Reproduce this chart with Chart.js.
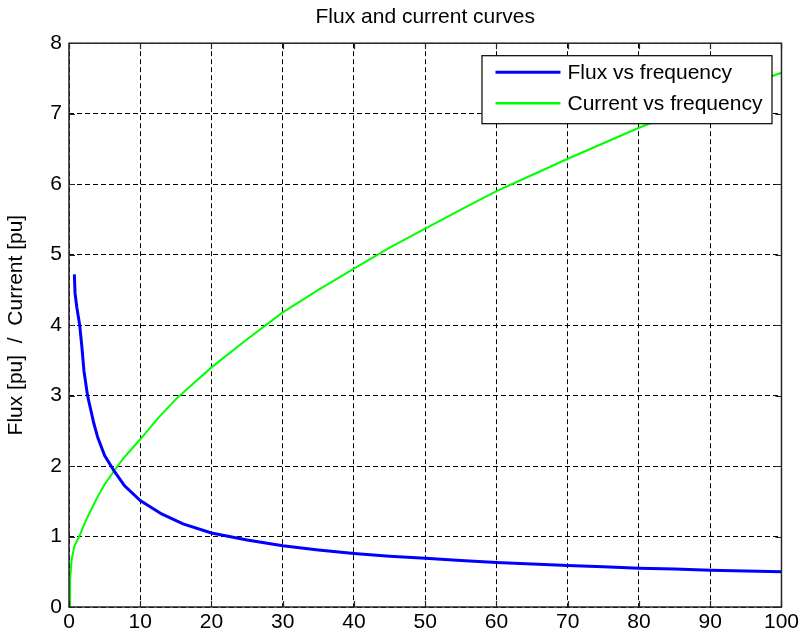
<!DOCTYPE html>
<html lang="en">
  <head>
    <meta charset="utf-8" />
    <title>Flux and current curves</title>
    <style>
      * {
        margin: 0;
        padding: 0;
      }
      body {
        background: white;
      }
    </style>
  </head>
  <body>
    <canvas id="myChart" width="802" height="637"></canvas>

    <script src="https://cdn.jsdelivr.net/npm/chart.js@4/dist/chart.umd.min.js"></script>

    <script>
      // data
      const fluxFreq = [0.75, 0.85, 1.1, 1.5, 1.8, 2.1, 2.6, 3.5, 4.05, 5.0, 6.4, 7.8, 10, 13, 16, 20, 25, 30, 35, 40, 45, 50, 55, 60, 65, 70, 75, 80, 85, 90, 95, 100];
      const fluxValues = [4.72, 4.45, 4.25, 4.0, 3.7, 3.35, 3.0, 2.6, 2.4, 2.15, 1.92, 1.72, 1.51, 1.32, 1.18, 1.05, 0.95, 0.87, 0.81, 0.76, 0.72, 0.69, 0.66, 0.63, 0.61, 0.59, 0.57, 0.55, 0.54, 0.52, 0.51, 0.5];

      const currentFreq = [0, 0.14, 0.37, 0.74, 1.44, 2.2, 3.1, 4.05, 5.0, 6.4, 7.55, 10, 12.5, 15, 20, 25, 30, 35, 40, 45, 50, 55, 60, 65, 70, 75, 80, 85, 90, 95, 100];
      const currentValues = [0, 0.38, 0.67, 0.86, 1.0, 1.19, 1.38, 1.57, 1.74, 1.94, 2.1, 2.38, 2.68, 2.95, 3.4, 3.8, 4.18, 4.5, 4.8, 5.1, 5.37, 5.64, 5.9, 6.13, 6.36, 6.58, 6.8, 7.0, 7.2, 7.4, 7.58];

      const seriesLabels = ["Flux vs frequency", "Current vs frequency"];
      const seriesColors = ["#0000ff", "#00ff00"];
      const xRange = [0, 100];
      const yRange = [0, 8];

      const FONT = "Arial, 'Liberation Sans', sans-serif";
      const FS = 21;

      const toPoints = (xs, ys) => xs.map((x, i) => ({ x: x, y: ys[i] }));

      // axes box with inward ticks on all four sides (matlab style)
      const framePlugin = {
        id: "frame",
        afterDatasetsDraw(chart) {
          const { ctx, chartArea: a, scales } = chart;
          const len = 6;
          ctx.save();
          ctx.strokeStyle = "#262626";
          ctx.lineWidth = 1.5;
          ctx.strokeRect(a.left, a.top, a.right - a.left, a.bottom - a.top);
          ctx.lineWidth = 1.2;
          ctx.beginPath();
          scales.x.ticks.forEach((t) => {
            const px = Math.round(scales.x.getPixelForValue(t.value)) + 0.5;
            ctx.moveTo(px, a.bottom);
            ctx.lineTo(px, a.bottom - len);
            ctx.moveTo(px, a.top);
            ctx.lineTo(px, a.top + len);
          });
          scales.y.ticks.forEach((t) => {
            const py = Math.round(scales.y.getPixelForValue(t.value)) + 0.5;
            ctx.moveTo(a.left, py);
            ctx.lineTo(a.left + len, py);
            ctx.moveTo(a.right, py);
            ctx.lineTo(a.right - len, py);
          });
          ctx.stroke();
          ctx.restore();
        },
      };

      // legend box inside the top right corner
      const boxLegend = {
        id: "boxLegend",
        afterDraw(chart) {
          const { ctx, chartArea: a } = chart;
          const w = 290;
          const h = 68;
          const x0 = a.right - 10 - w;
          const y0 = a.top + 12;
          ctx.save();
          ctx.fillStyle = "white";
          ctx.fillRect(x0, y0, w, h);
          ctx.strokeStyle = "#000";
          ctx.lineWidth = 1.2;
          ctx.strokeRect(x0 + 0.5, y0 + 0.5, w, h);
          ctx.font = FS + "px " + FONT;
          ctx.textBaseline = "middle";
          chart.data.datasets.forEach((ds, i) => {
            const y = y0 + 17 + i * 31;
            ctx.strokeStyle = ds.borderColor;
            ctx.lineWidth = i === 0 ? 3 : 2.5;
            ctx.beginPath();
            ctx.moveTo(x0 + 14, y);
            ctx.lineTo(x0 + 79, y);
            ctx.stroke();
            ctx.fillStyle = "#000";
            ctx.fillText(ds.label, x0 + 86, y + 1);
          });
          ctx.restore();
        },
      };

      const data = {
        datasets: [
          {
            label: seriesLabels[0],
            data: toPoints(fluxFreq, fluxValues),
            borderColor: seriesColors[0],
            borderWidth: 3,
            pointRadius: 0,
            tension: 0,
          },
          {
            label: seriesLabels[1],
            data: toPoints(currentFreq, currentValues),
            borderColor: seriesColors[1],
            borderWidth: 2,
            pointRadius: 0,
            tension: 0,
          },
        ],
      };

      const config = {
        type: "line",
        data: data,
        options: {
          responsive: false,
          animation: false,
          layout: { padding: { left: 0, right: 19, top: 0, bottom: 0 } },
          plugins: {
            legend: { display: false },
            tooltip: { enabled: false },
            title: {
              display: true,
              text: "Flux and current curves",
              color: "#000",
              fullSize: false,
              font: { family: FONT, size: FS, weight: "normal" },
              padding: { top: 5, bottom: 13 },
            },
          },
          scales: {
            x: {
              type: "linear",
              min: xRange[0],
              max: xRange[1],
              afterFit: (scale) => {
                scale.height = 30;
              },
              ticks: {
                stepSize: 10,
                color: "#000",
                padding: 3,
                maxRotation: 0,
                font: { family: FONT, size: FS },
              },
              grid: { color: "#000", lineWidth: 1, drawTicks: false },
              border: { display: false, dash: [5, 3] },
            },
            y: {
              min: yRange[0],
              max: yRange[1],
              afterFit: (scale) => {
                scale.width = 69;
              },
              ticks: {
                stepSize: 1,
                color: "#000",
                padding: 7,
                font: { family: FONT, size: FS },
              },
              grid: { color: "#000", lineWidth: 1, drawTicks: false },
              border: { display: false, dash: [5, 3] },
              title: {
                display: true,
                text: "Flux [pu]  /  Current [pu]",
                color: "#000",
                font: { family: FONT, size: FS },
                padding: { top: 4, bottom: 0 },
              },
            },
          },
        },
        plugins: [framePlugin, boxLegend],
      };

      const myChart = new Chart(document.getElementById("myChart"), config);
    </script>
  </body>
</html>
